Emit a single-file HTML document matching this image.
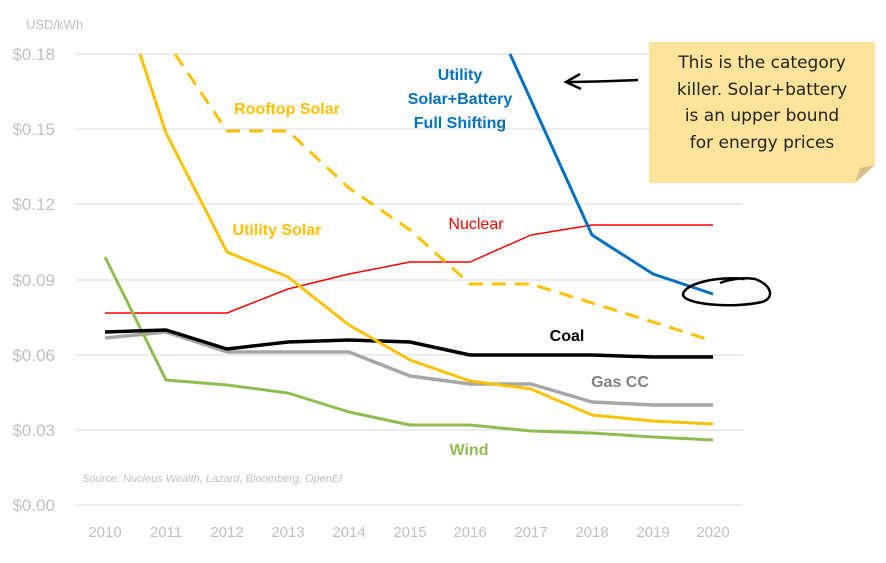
<!DOCTYPE html>
<html><head><style>body{margin:0;background:#fff}svg{display:block}</style></head><body>
<svg width="886" height="563" viewBox="0 0 886 563" xmlns="http://www.w3.org/2000/svg" font-family="Liberation Sans, sans-serif">
<g stroke="#d9d9d9" stroke-width="1">
<line x1="75" y1="54" x2="743" y2="54"/><line x1="75" y1="129" x2="743" y2="129"/><line x1="75" y1="204" x2="743" y2="204"/><line x1="75" y1="280" x2="743" y2="280"/><line x1="75" y1="355" x2="743" y2="355"/><line x1="75" y1="430" x2="743" y2="430"/><line x1="75" y1="505" x2="743" y2="505"/>
</g>
<g fill="#bfbfbf" font-size="17" text-anchor="end">
<text x="55" y="60">$0.18</text><text x="55" y="135">$0.15</text><text x="55" y="210">$0.12</text><text x="55" y="286">$0.09</text><text x="55" y="361">$0.06</text><text x="55" y="436">$0.03</text><text x="55" y="511">$0.00</text>
</g>
<text x="26" y="29" fill="#bfbfbf" font-size="13">USD/kWh</text>
<g fill="#bfbfbf" font-size="15" text-anchor="middle">
<text x="105" y="537">2010</text><text x="166" y="537">2011</text><text x="227" y="537">2012</text><text x="288" y="537">2013</text><text x="349" y="537">2014</text><text x="410" y="537">2015</text><text x="470" y="537">2016</text><text x="531" y="537">2017</text><text x="592" y="537">2018</text><text x="653" y="537">2019</text><text x="713" y="537">2020</text>
</g>
<text x="82" y="482" fill="#bfbfbf" font-size="11" font-style="italic">Source: Nucleus Wealth, Lazard, Bloomberg, OpenEI</text>
<g fill="none" stroke-linejoin="round">
<polyline stroke="#ff0000" stroke-width="1.5" points="105,313 166,313 227,313 288,289 349,274 410,262 470,262 531,235 592,225 653,225 713,225"/>
<polyline stroke="#a6a6a6" stroke-width="3.5" points="105,338 166,332 227,352 288,352 349,352 410,376 470,384 531,384 592,402 653,405 713,405"/>
<polyline stroke="#8fbc4f" stroke-width="3" points="105,257 166,380 227,385 288,393 349,412 410,425 470,425 531,431 592,433 653,437 713,440"/>
<polyline stroke="#000" stroke-width="3.5" points="105,332 166,330 227,349 288,342 349,340 410,342 470,355 531,355 592,355 653,357 713,357"/>
<polyline stroke="#ffc000" stroke-width="3" points="140,54 166,133 227,252 288,277 349,325 410,360 470,381 531,389 592,415 653,421 713,424"/>
<polyline stroke="#ffc000" stroke-width="3" stroke-dasharray="14,9" points="175,54 227,131 288,131 349,188 410,230 470,284 531,284 592,303 653,322 713,341"/>
<polyline stroke="#0070c0" stroke-width="3" points="510,54 592,235 653,274 713,294"/>
</g>
<g font-size="16" font-weight="bold" text-anchor="middle">
<text x="287" y="114" fill="#ffc000">Rooftop Solar</text>
<text x="277" y="235" fill="#ffc000">Utility Solar</text>
<text x="460" y="80" fill="#0070c0">Utility</text>
<text x="460" y="104" fill="#0070c0">Solar+Battery</text>
<text x="460" y="128" fill="#0070c0">Full Shifting</text>
<text x="567" y="341" fill="#000">Coal</text>
<text x="620" y="387" fill="#808080">Gas CC</text>
<text x="469" y="455" fill="#8fbc4f">Wind</text>
</g>
<text x="476" y="229" fill="#ff0000" font-size="16" text-anchor="middle">Nuclear</text>
<path d="M649,42 H875 V165 L855,183 H649 Z" fill="#fde49a"/>
<path d="M875,165 L855,183 L860,168 Z" fill="#d8c08a"/>
<g font-family="DejaVu Sans, sans-serif" font-size="17" text-anchor="middle" fill="#222">
<text x="762" y="68">This is the category</text>
<text x="762" y="95">killer. Solar+battery</text>
<text x="762" y="121">is an upper bound</text>
<text x="762" y="148">for energy prices</text>
</g>
<path d="M638,80 C610,81 590,82 567,82" stroke="#000" stroke-width="2.5" fill="none"/>
<path d="M580,74 L566,82 L581,89" stroke="#000" stroke-width="2.5" fill="none"/>
<path d="M745,279 C715,276 685,284 683,294 C682,304 730,309 762,302 C775,298 772,285 755,279 C745,277 730,279 720,283" stroke="#000" stroke-width="2.5" fill="none"/>
</svg>
</body></html>
